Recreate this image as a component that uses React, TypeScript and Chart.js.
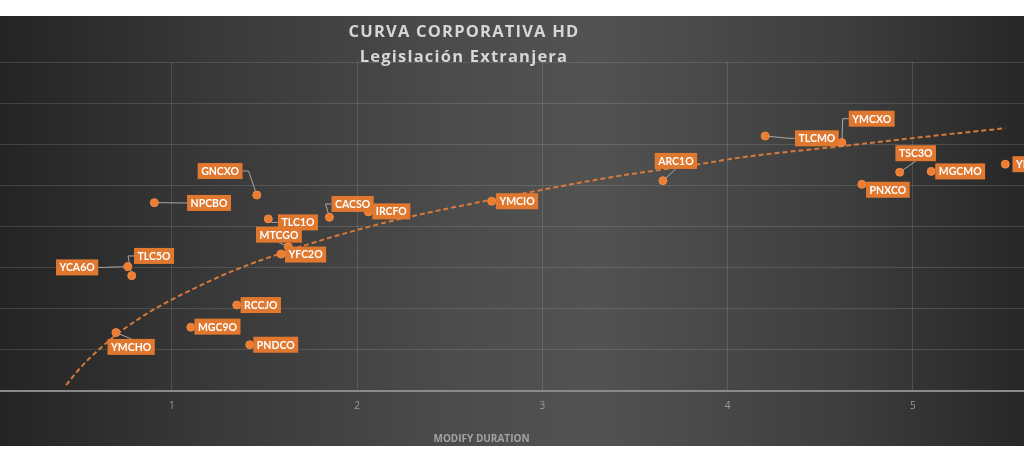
import React, { useEffect, useRef } from "react";
import { Chart, registerables } from "chart.js";

Chart.register(...registerables);

// ---- data ----
const BOND_NAMES = [
  "NPCBO", "GNCXO", "TLC1O", "MTCGO", "YFC2O", "CACSO", "IRCFO", "YMCIO",
  "ARC1O", "TLCMO", "YMCXO", "TSC3O", "MGCMO", "PNXCO", "YMCJO",
  "YCA6O", "TLC5O", "YMCHO", "RCCJO", "MGC9O", "PNDCO",
];
const MODIFIED_DURATION = [
  0.906, 1.459, 1.521, 1.629, 1.59, 1.851, 2.061, 2.727,
  3.651, 4.203, 4.617, 4.929, 5.099, 4.725, 5.499,
  0.763, 0.784, 0.699, 1.351, 1.103, 1.421,
];
const YIELD = [
  9.16, 9.53, 8.37, 7.02, 6.66, 8.45, 8.71, 9.23,
  10.23, 12.4, 12.08, 10.64, 10.68, 10.05, 11.03,
  6.05, 5.61, 2.84, 4.18, 3.1, 2.25,
];
// trend curve
const TREND_X = [0.43, 0.52, 0.61, 0.72, 0.88, 1.05, 1.33, 1.69, 2.0, 2.23, 2.73, 3.38, 3.82, 4.09, 4.62, 5.0, 5.5];
const TREND_Y = [0.29, 1.26, 2.04, 2.87, 3.84, 4.67, 5.84, 7.0, 7.83, 8.36, 9.31, 10.41, 10.99, 11.38, 11.91, 12.3, 12.78];

const TITLE_LINES = ["CURVA CORPORATIVA HD", "Legislación Extranjera"];
const X_AXIS_TITLE = "MODIFY DURATION";

// ---- layout of the data labels (pixel offsets of label box centre from its point) ----
const LABEL_DX = [
  54.7, -36.7, 29.7, -9.3, 24.5, 23.2, 23, 25.3,
  13, 51.7, 29.8, 16, 29, 26, 29,
  -50.7, 22.3, 15.2, 24, 26.6, 26,
];
const LABEL_DY = [
  0.3, -24, 3.5, -12, 0.5, -13.3, -0.5, 0,
  -19.7, 2.3, -23.9, -19, 0, 5.4, 0,
  0.8, -19.7, 14.3, 0, -0.6, 0,
];

const ORANGE = "#ED7D31";
const LABEL_FILL = "#E0782F";
const GRID = "rgba(255,255,255,0.13)";
const LABEL_FONT = 'bold 10.5px Lato, "Open Sans", sans-serif';

const labelPlugin = {
  id: "bondLabels",
  boxes(chart: any) {
    const ctx = chart.ctx;
    const meta = chart.getDatasetMeta(1);
    ctx.save();
    ctx.font = LABEL_FONT;
    const out = meta.data.map((el: any, i: number) => {
      const w = ctx.measureText(BOND_NAMES[i]).width + 7;
      const h = 16;
      const cx = el.x + LABEL_DX[i];
      const cy = el.y + LABEL_DY[i];
      return { px: el.x, py: el.y, l: cx - w / 2, r: cx + w / 2, t: cy - h / 2, b: cy + h / 2, cx, cy };
    });
    ctx.restore();
    return out;
  },
  beforeDatasetsDraw(chart: any) {
    const ctx = chart.ctx;
    const boxes = (labelPlugin as any).boxes(chart);
    ctx.save();
    ctx.strokeStyle = "#a8a8a8";
    ctx.lineWidth = 1;
    boxes.forEach((b: any) => {
      let ax: number, ay: number, ex: number, ey: number;
      if (b.px < b.l) { ax = b.l; ay = b.cy; ex = ax - 6; ey = ay; }
      else if (b.px > b.r) { ax = b.r; ay = b.cy; ex = ax + 6; ey = ay; }
      else if (b.py > b.b) { ax = b.cx; ay = b.b; ex = ax; ey = ay; }
      else { ax = b.cx; ay = b.t; ex = ax; ey = ay; }
      const d = Math.hypot(ax - b.px, ay - b.py);
      if (d < 9) return;
      ctx.beginPath();
      ctx.moveTo(ax, ay);
      ctx.lineTo(ex, ey);
      ctx.lineTo(b.px, b.py);
      ctx.stroke();
    });
    ctx.restore();
  },
  afterDatasetsDraw(chart: any) {
    const ctx = chart.ctx;
    const boxes = (labelPlugin as any).boxes(chart);
    ctx.save();
    ctx.font = LABEL_FONT;
    ctx.textAlign = "center";
    ctx.textBaseline = "middle";
    boxes.forEach((b: any, i: number) => {
      ctx.fillStyle = LABEL_FILL;
      ctx.fillRect(b.l, b.t, b.r - b.l, b.b - b.t);
      ctx.fillStyle = "#ffffff";
      ctx.fillText(BOND_NAMES[i], b.cx, b.cy + 0.5);
    });
    ctx.restore();
  },
};

const textPlugin = {
  id: "titles",
  afterDraw(chart: any) {
    const ctx = chart.ctx;
    ctx.save();
    ctx.fillStyle = "#d6d6d6";
    ctx.textAlign = "center";
    ctx.textBaseline = "alphabetic";
    ctx.font = 'bold 16.5px "Open Sans", sans-serif';
    try { (ctx as any).letterSpacing = "1.2px"; } catch (e) {}
    ctx.fillText(TITLE_LINES[0], 464, 21);
    ctx.fillText(TITLE_LINES[1], 464, 45.5);
    try { (ctx as any).letterSpacing = "0px"; } catch (e) {}
    ctx.fillStyle = "#a3a3a3";
    ctx.font = 'bold 10px "Open Sans", sans-serif';
    ctx.fillText(X_AXIS_TITLE, 481.5, 426);
    ctx.restore();
  },
};

export default function App() {
  const canvasRef = useRef<HTMLCanvasElement | null>(null);

  useEffect(() => {
    if (!canvasRef.current) return;
    const chart = new Chart(canvasRef.current, {
      type: "scatter",
      data: {
        datasets: [
          {
            type: "line",
            label: "Tendencia",
            data: TREND_X.map((x, i) => ({ x, y: TREND_Y[i] })),
            borderColor: "rgba(222,124,58,0.95)",
            borderWidth: 2,
            borderDash: [5, 3],
            pointRadius: 0,
            fill: false,
            tension: 0.4,
            cubicInterpolationMode: "monotone",
            order: 2,
          } as any,
          {
            type: "scatter",
            label: "Bonos",
            data: MODIFIED_DURATION.map((x, i) => ({ x, y: YIELD[i] })),
            backgroundColor: ORANGE,
            borderColor: "#F08A44",
            borderWidth: 1,
            pointRadius: 4,
            order: 1,
          },
        ],
      },
      options: {
        responsive: false,
        maintainAspectRatio: false,
        animation: false,
        layout: { autoPadding: false, padding: { top: 46, left: 0, right: 0, bottom: 0 } },
        plugins: {
          legend: { display: false },
          tooltip: { enabled: false },
          title: { display: false },
        },
        scales: {
          x: {
            type: "linear",
            min: 0.073,
            max: 5.6,
            afterFit: (s: any) => {
              s.height = 55;
              s.paddingLeft = 0;
              s.paddingRight = 0;
            },
            grid: { color: GRID, drawTicks: false },
            border: { color: "#8a8a8a", width: 2 },
            ticks: {
              stepSize: 1,
              includeBounds: false,
              color: "#9c9c9c",
              font: { family: '"Open Sans", sans-serif', size: 10 },
              padding: 9,
            } as any,
          },
          y: {
            min: 0,
            max: 16,
            afterFit: (s: any) => {
              s.width = 0;
              s.paddingTop = 0;
              s.paddingBottom = 0;
            },
            grid: { color: GRID, drawTicks: false },
            border: { display: false },
            ticks: { display: false, stepSize: 2 },
          },
        },
      },
      plugins: [labelPlugin as any, textPlugin as any],
    });
    return () => chart.destroy();
  }, []);

  return (
    <div style={{ position: "absolute", left: 0, top: 0, width: 1024, height: 466, background: "#ffffff", overflow: "hidden" }}>
      <div
        style={{
          position: "absolute",
          left: 0,
          top: 16,
          width: 1024,
          height: 430,
          background:
            "linear-gradient(to right, #242424 0%, #383838 20%, #4c4c4c 45%, #525252 58%, #3e3e3e 82%, #272727 100%)",
        }}
      >
        <canvas ref={canvasRef} width={1024} height={430} style={{ display: "block", width: 1024, height: 430 }} />
      </div>
    </div>
  );
}
